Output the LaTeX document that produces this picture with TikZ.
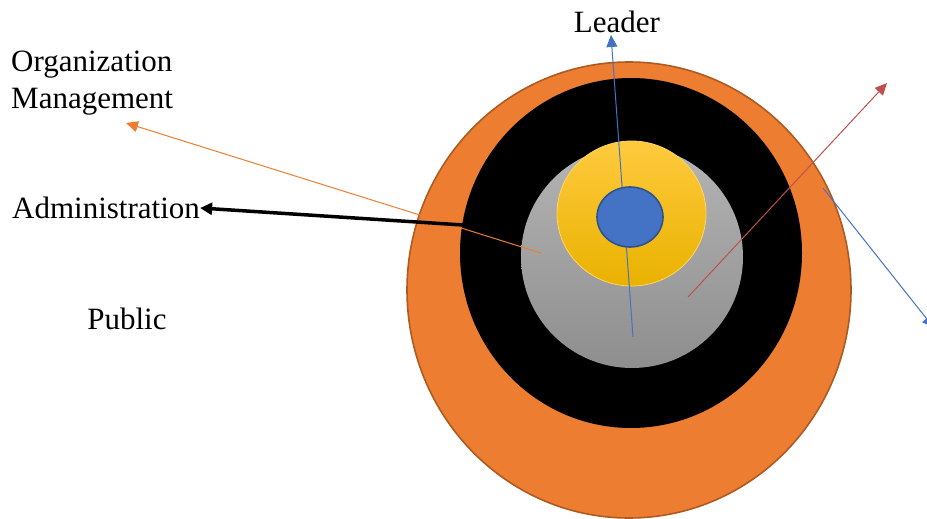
\documentclass[tikz,border=0pt]{standalone}
\usepackage{fontspec}
\setmainfont{Liberation Serif}
\usepackage{tikz}
\usetikzlibrary{arrows.meta,positioning}
\definecolor{rim}{HTML}{ED7D31}
\definecolor{rimedge}{HTML}{AE5A21}
\definecolor{core}{HTML}{4472C4}
\definecolor{coreedge}{HTML}{2F528F}
\definecolor{goldtop}{HTML}{FFCA3E}
\definecolor{goldbot}{HTML}{E9B200}
\definecolor{greytop}{HTML}{B4B4B4}
\definecolor{greybot}{HTML}{8E8E8E}
\definecolor{redline}{HTML}{C0504D}
\tikzset{
  lbl/.style={font=\fontsize{31}{37}\selectfont, inner sep=0pt, align=left},
  ptr/.style={-{Triangle[length=12pt, width=11pt]}, line width=1pt},
  heavyptr/.style={-{Triangle[length=12pt, width=12pt]}, line width=3.5pt},
}

\begin{document}
\begin{tikzpicture}[x=1pt, y=-1pt]
\useasboundingbox (0,0) rectangle (927,519);
% rings
\draw[fill=rim, draw=rimedge, line width=1.6pt] (629,290) ellipse [x radius=222, y radius=228];
\fill[black] (631,253) ellipse [x radius=171, y radius=175];
\shade[top color=greytop, bottom color=greybot] (632,257) circle [radius=111];
\shade[top color=goldtop, bottom color=goldbot] (631.5,213.5) ellipse [x radius=74.5, y radius=72.5];
\draw[goldtop!80!white, line width=0.8pt] (631.5,213.5) ellipse [x radius=74.5, y radius=72.5];

% labels
\node[lbl, anchor=north west] (orgmgmt) at (11,51) {Organization\\Management};
\node[lbl, anchor=west] (admin) at (12,208) {Administration};
\node[lbl] (public) at (127,319) {Public};
\node[lbl] (leader) at (617,22) {Leader};

\coordinate (orgfrom) at (541,253);
\coordinate (orgtip) at (126,123);
\coordinate (adminfrom) at (463,225);
\coordinate (leadfrom) at (633,337);
\coordinate (leadtip) at (611,35);
\coordinate (redfrom) at (688,297);
\coordinate (redtip) at (887,83);
\coordinate (bluefrom) at (823,188);
\coordinate (bluetip) at (934,328);

% pointers
\draw[ptr, rim] (orgfrom) -- (orgtip);
\draw[heavyptr, black] (adminfrom) -- (admin.east);
\draw[ptr, core] (leadfrom) -- (leadtip);
\draw[fill=core, draw=coreedge, line width=1.6pt] (630,217) ellipse [x radius=33, y radius=30];
\draw[ptr, redline] (redfrom) -- (redtip);
\draw[ptr, core] (bluefrom) -- (bluetip);
\end{tikzpicture}
\end{document}
